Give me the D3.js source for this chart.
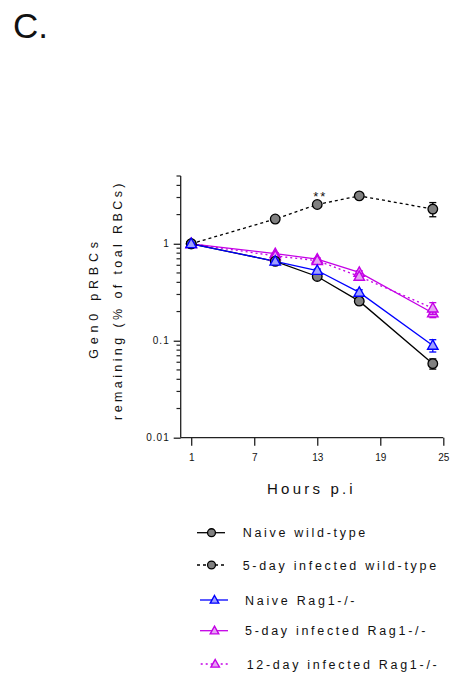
<!DOCTYPE html>
<html><head><meta charset="utf-8">
<script src="https://cdn.jsdelivr.net/npm/d3@7"></script>
<style>
html,body{margin:0;padding:0;background:#fff;}
text{font-family:"Liberation Sans",Arial,sans-serif;fill:#111;}
</style></head>
<body>
<svg id="c" width="458" height="680"></svg>
<script>
const hours = [1, 9, 13, 17, 24];
const seriesNames = ["Naive wild-type","5-day infected wild-type","Naive Rag1-/-","5-day infected Rag1-/-","12-day infected Rag1-/-"];
const naiveWT = [1.0, 0.66, 0.46, 0.256, 0.058];
const naiveWTErr = [0.02, 0.02, 0.02, 0.02, 0.007];
const inf5WT = [1.0, 1.80, 2.54, 3.12, 2.28];
const inf5WTErr = [0.03, 0.05, 0.08, 0.15, 0.38];
const naiveRag = [1.0, 0.66, 0.53, 0.315, 0.0895];
const naiveRagErr = [0.02, 0.02, 0.02, 0.02, 0.013];
const inf5Rag = [1.0, 0.79, 0.695, 0.506, 0.193];
const inf5RagErr = [0.02, 0.02, 0.02, 0.02, 0.02];
const inf12Rag = [1.0, 0.75, 0.67, 0.46, 0.217];
const inf12RagErr = [0.02, 0.02, 0.02, 0.03, 0.03];
const xTicks = [1, 7, 13, 19, 25];
const yTicks = [0.01, 0.1, 1];
const yTickLabels = ["0.01", "0.1", "1"];

const svg = d3.select("#c");
const x = d3.scaleLinear().domain([0, 25]).range([180.7, 443.3]);
const y = d3.scaleLog().domain([0.01, 5]).range([437.7, 176]);
const axisColor = "#222";
const mag = "#c400e6";

const series = [
  {name: seriesNames[3], vals: inf5Rag, err: inf5RagErr, color: mag, fill: "#e6a3f3", shape: "tri", dash: null},
  {name: seriesNames[4], vals: inf12Rag, err: inf12RagErr, color: mag, fill: "#e6a3f3", shape: "tri", dash: "2,3"},
  {name: seriesNames[0], vals: naiveWT, err: naiveWTErr, color: "#000", fill: "#808080", shape: "circ", dash: null},
  {name: seriesNames[1], vals: inf5WT, err: inf5WTErr, color: "#000", fill: "#808080", shape: "circ", dash: "3,3"},
  {name: seriesNames[2], vals: naiveRag, err: naiveRagErr, color: "#0000ff", fill: "#a0a0ff", shape: "tri", dash: null}
];

svg.append("text").attr("x", 13).attr("y", 38).attr("font-size", 35).attr("fill", "#000").text("C.");

const yAxis = d3.axisLeft(y).tickValues(yTicks).tickFormat((d,i)=>yTickLabels[i]).tickSize(7).tickPadding(4);
const gy = svg.append("g").attr("transform", "translate(180.7,0)").call(yAxis);
gy.select(".domain").attr("d", "M0,176V437.7").attr("stroke-width", 1.3).attr("stroke", axisColor);
gy.selectAll(".tick line").attr("stroke-width", 1.3).attr("stroke", axisColor);
gy.selectAll(".tick text").attr("font-size", 10).attr("letter-spacing", 1).attr("fill", "#111").attr("font-family", "Liberation Sans, Arial, sans-serif");
const minor = [];
[0.01, 0.1, 1].forEach(dec => { for (let k = 2; k <= 9; k++) { const v = dec * k; if (v <= 5.0001) minor.push(v); } });
svg.append("g").selectAll("line").data(minor).join("line")
  .attr("x1", 180.7).attr("x2", 176.5).attr("y1", d => y(d)).attr("y2", d => y(d))
  .attr("stroke", axisColor).attr("stroke-width", 1.2);

const xAxis = d3.axisBottom(x).tickValues(xTicks).tickSize(8).tickPadding(8);
const gx = svg.append("g").attr("transform", "translate(0,437.7)").call(xAxis);
gx.select(".domain").attr("d", "M180.7,0H443.3").attr("stroke-width", 1.3).attr("stroke", axisColor);
gx.selectAll(".tick line").attr("stroke-width", 1.3).attr("stroke", axisColor);
gx.selectAll(".tick text").attr("font-size", 10).attr("fill", "#111").attr("font-family", "Liberation Sans, Arial, sans-serif");

svg.append("text").attr("x", 311.5).attr("y", 494).attr("text-anchor", "middle")
  .attr("font-size", 15).attr("letter-spacing", 3.2).text("Hours p.i");
svg.append("text").attr("transform", "translate(98,298) rotate(-90)").attr("text-anchor", "middle")
  .attr("font-size", 12.5).attr("letter-spacing", 4.8).text("Gen0 pRBCs");
svg.append("text").attr("transform", "translate(122,300) rotate(-90)").attr("text-anchor", "middle")
  .attr("font-size", 12.5).attr("letter-spacing", 3.4).text("remaining (% of toal RBCs)");

function marker(g, s, cx, cy, sc) {
  sc = sc || 1;
  if (s.shape === "circ") {
    g.append("circle").attr("cx", cx).attr("cy", cy).attr("r", 4.8 * sc)
      .attr("fill", s.fill).attr("stroke", s.color).attr("stroke-width", 1.3);
  } else {
    const r = 5.5 * sc;
    g.append("path").attr("d", `M${cx},${cy - r}L${cx + r * 0.95},${cy + r * 0.7}L${cx - r * 0.95},${cy + r * 0.7}Z`)
      .attr("fill", s.fill).attr("stroke", s.color).attr("stroke-width", 1.4);
  }
}

const line = d3.line().x(d => x(d[0])).y(d => y(d[1]));
const plot = svg.append("g");
series.forEach(s => {
  const pts = hours.map((h, i) => [h, s.vals[i]]);
  plot.append("path").attr("d", line(pts)).attr("fill", "none").attr("stroke", s.color)
    .attr("stroke-width", 1.3).attr("stroke-dasharray", s.dash);
});
series.forEach(s => {
  const g = plot.append("g");
  hours.forEach((h, i) => {
    const cx = x(h), lo = y(s.vals[i] - s.err[i]), hi = y(s.vals[i] + s.err[i]);
    g.append("line").attr("x1", cx).attr("x2", cx).attr("y1", lo).attr("y2", hi).attr("stroke", s.color).attr("stroke-width", 1.3);
    [lo, hi].forEach(yy => g.append("line").attr("x1", cx - 3.5).attr("x2", cx + 3.5).attr("y1", yy).attr("y2", yy).attr("stroke", s.color).attr("stroke-width", 1.3));
    marker(g, s, cx, y(s.vals[i]));
  });
});

svg.append("text").attr("x", x(13) + 3).attr("y", 201).attr("text-anchor", "middle")
  .attr("font-size", 13).attr("letter-spacing", 2).attr("fill", "#333").text("**");

const legendOrder = [2, 3, 4, 0, 1];
const legY = [532.7, 565, 600, 630.7, 664];
const legX0 = [197, 197, 200, 200, 200.7];
const legTextX = [242.7, 242.7, 245, 245, 246.7];
const lg = svg.append("g");
legendOrder.forEach((si, r) => {
  const s = series[si];
  const yy = legY[r];
  lg.append("line").attr("x1", legX0[r]).attr("x2", legX0[r] + 28).attr("y1", yy).attr("y2", yy)
    .attr("stroke", s.color).attr("stroke-width", 1.3).attr("stroke-dasharray", s.dash);
  marker(lg, s, legX0[r] + 14.5, yy, 0.82);
  lg.append("text").attr("x", legTextX[r]).attr("y", yy + 4.5).attr("font-size", 12.5)
    .attr("letter-spacing", 2.7).text(s.name);
});
</script>
</body></html>
